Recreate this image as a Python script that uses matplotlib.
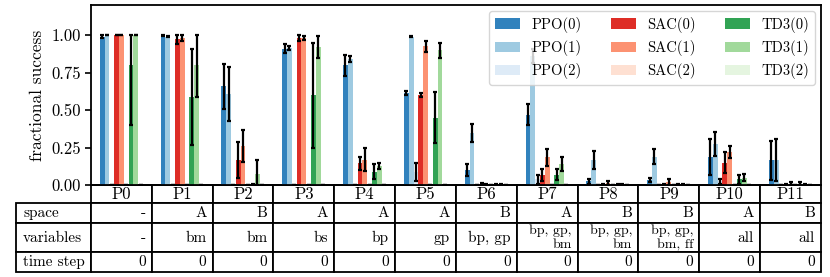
import matplotlib
matplotlib.use('Agg')
import matplotlib.pyplot as plt
from matplotlib.table import Table
from matplotlib.patches import Patch
import numpy as np

plt.rcParams['font.family'] = 'serif'
plt.rcParams['font.serif'] = ['cmr10']
plt.rcParams['axes.formatter.use_mathtext'] = True
plt.rcParams['mathtext.fontset'] = 'cm'

problems = ['P0', 'P1', 'P2', 'P3', 'P4', 'P5', 'P6', 'P7', 'P8', 'P9', 'P10', 'P11']

# mean success and spread per series
ppo0 = [0.99, 1.0, 0.66, 0.91, 0.80, 0.615, 0.10, 0.47, 0.025, 0.035, 0.185, 0.165]
ppo0_err = [0.012, 0.005, 0.15, 0.03, 0.07, 0.012, 0.04, 0.07, 0.015, 0.015, 0.12, 0.13]
ppo1 = [1.0, 0.99, 0.61, 0.915, 0.84, 0.99, 0.345, 0.86, 0.17, 0.19, 0.275, 0.165]
ppo1_err = [0.0, 0.005, 0.18, 0.012, 0.02, 0.005, 0.06, 0.046, 0.06, 0.05, 0.08, 0.14]
ppo2 = [0, 0, 0, 0, 0, 0.09, 0, 0.04, 0, 0, 0.025, 0]
ppo2_err = [0, 0, 0, 0, 0, 0.06, 0, 0.03, 0, 0, 0.015, 0]
sac0 = [1.0, 0.975, 0.17, 0.98, 0.145, 0.60, 0.008, 0.065, 0.003, 0.003, 0.15, 0.005]
sac0_err = [0, 0.035, 0.12, 0.017, 0.045, 0.015, 0.008, 0.04, 0.003, 0.003, 0.07, 0.005]
sac1 = [1.0, 0.98, 0.26, 0.98, 0.17, 0.925, 0.003, 0.185, 0.015, 0.02, 0.22, 0.01]
sac1_err = [0, 0.02, 0.105, 0.015, 0.075, 0.035, 0.003, 0.055, 0.015, 0.02, 0.04, 0.01]
sac2 = [0] * 12
sac2_err = [0] * 12
td30 = [0.8, 0.59, 0.005, 0.6, 0.09, 0.45, 0.002, 0.07, 0.005, 0.003, 0.04, 0.01]
td30_err = [0.4, 0.32, 0.005, 0.35, 0.05, 0.17, 0.002, 0.035, 0.003, 0.003, 0.03, 0.008]
td31 = [1.0, 0.8, 0.075, 0.92, 0.13, 0.90, 0.002, 0.14, 0.003, 0.003, 0.05, 0.005]
td31_err = [0, 0.21, 0.09, 0.075, 0.02, 0.05, 0.002, 0.045, 0.003, 0.003, 0.025, 0.005]
td32 = [0] * 12
td32_err = [0] * 12

labels = ['PPO(0)', 'PPO(1)', 'PPO(2)', 'SAC(0)', 'SAC(1)', 'SAC(2)',
          'TD3(0)', 'TD3(1)', 'TD3(2)']
colors = ['#3182bd', '#9ecae1', '#deebf7', '#de2d26', '#fc9272', '#fee0d2',
          '#31a354', '#a1d99b', '#e5f5e0']

row_labels = ['space', 'variables', 'time step']
space = ['-', 'A', 'B', 'A', 'A', 'A', 'B', 'A', 'B', 'B', 'A', 'B']
variables = ['-', 'bm', 'bm', 'bs', 'bp', 'gp', 'bp, gp', 'bp, gp,\nbm',
             'bp, gp,\nbm', 'bp, gp,\nbm, ff', 'all', 'all']
time_step = ['0'] * 12

means = [ppo0, ppo1, ppo2, sac0, sac1, sac2, td30, td31, td32]
errs = [ppo0_err, ppo1_err, ppo2_err, sac0_err, sac1_err, sac2_err,
        td30_err, td31_err, td32_err]

fig = plt.figure(figsize=(8.3, 2.77), dpi=100)
ax = fig.add_axes([0.1096, 0.3321, 0.8795, 0.6498])

x = np.arange(len(problems))
w = 0.079
for k, (m, e) in enumerate(zip(means, errs)):
    m = np.array(m, dtype=float)
    e = np.array(e, dtype=float)
    pos = x + (k - 4) * w
    ax.bar(pos, m, width=w, color=colors[k], zorder=2)
    # clip the spread to [0, 1]
    lo = np.minimum(e, m)
    hi = np.minimum(e, 1 - m)
    ax.errorbar(pos, m, yerr=[lo, hi], fmt='none', ecolor='k',
                elinewidth=1.6, capsize=1.7, capthick=1.6, zorder=3)

ax.set_xlim(-0.5, len(problems) - 0.5)
ax.set_ylim(0, 1.2)
ax.set_yticks([0, 0.25, 0.5, 0.75, 1.0])
ax.set_yticklabels(['0.00', '0.25', '0.50', '0.75', '1.00'])
ax.set_xticks([])
ax.tick_params(axis='y', labelsize=12, width=1.2, length=4)
ax.set_ylabel('fractional success', fontsize=12.5, labelpad=4)
for s in ax.spines.values():
    s.set_linewidth(1.3)

handles = [Patch(facecolor=c) for c in colors]
ax.legend(handles, labels, ncol=3, loc='upper right', fontsize=10.5,
          handlelength=1.7, columnspacing=2.0, borderaxespad=0.4,
          labelspacing=0.5)

# table under the axes
tab = Table(ax, bbox=[-0.1032, -0.483, 1.1032, 0.483])
tab.auto_set_font_size(False)
row_h = [18.0, 20.5, 28.5, 20.0]
for j, name in enumerate(problems):
    tab.add_cell(0, j + 1, width=1, height=row_h[0], text=name, loc='center')
for i, (lab, vals) in enumerate(zip(row_labels, [space, variables, time_step])):
    tab.add_cell(i + 1, 0, width=1.238, height=row_h[i + 1], text=lab, loc='left')
    for j, v in enumerate(vals):
        tab.add_cell(i + 1, j + 1, width=1, height=row_h[i + 1], text=v, loc='right')
for (r, cidx), cell in tab.get_celld().items():
    cell.set_linewidth(1.3)
    t = cell.get_text()
    if r == 0:
        t.set_fontsize(12)
    elif '\n' in t.get_text():
        t.set_fontsize(10)
        t.set_linespacing(1.2)
    else:
        t.set_fontsize(11)
ax.add_table(tab)

fig.savefig('out.png', dpi=100)
